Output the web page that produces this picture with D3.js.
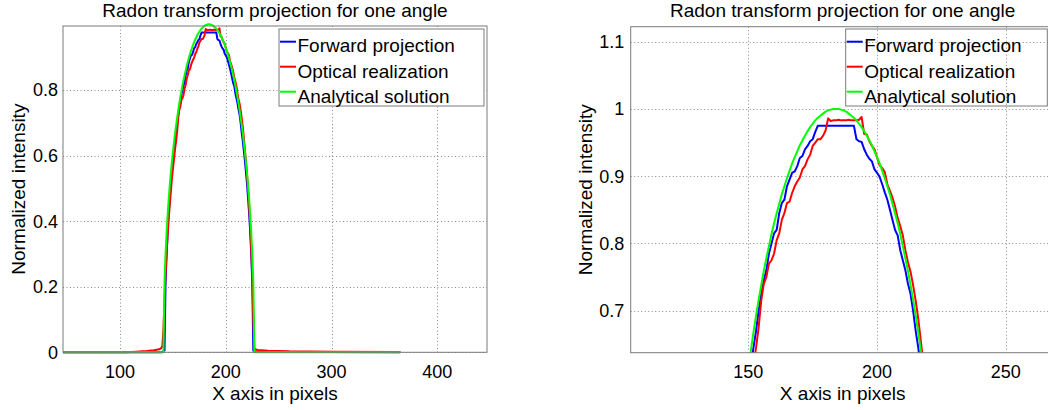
<!DOCTYPE html>
<html><head><meta charset="utf-8">
<style>
body { margin: 0; background: #fff; }
svg text { font-family: "Liberation Sans", Arial, Helvetica, sans-serif; fill: #000; }
.grid line { stroke: #8a8a8a; stroke-width: 1; stroke-dasharray: 1,2.5; }
.box { fill: none; stroke: #7a7a7a; stroke-width: 1; }
.line { fill: none; stroke-width: 2; stroke-linejoin: round; }
</style>
<script src="https://cdn.jsdelivr.net/npm/d3@7"></script>
</head><body>
<div id="chart"></div>
<script>
// series names and colours
var names = ["Forward projection", "Optical realization", "Analytical solution"];
var colors = ["#0000ff", "#ff0000", "#00ff00"];

// analytical solution, one value per pixel from x = 141
var analyticalStart = 141;
var analyticalVals = [0, 0.214, 0.301, 0.367, 0.421, 0.468, 0.510, 0.547, 0.581, 0.612,
  0.641, 0.668, 0.693, 0.716, 0.738, 0.759, 0.778, 0.796, 0.814, 0.830,
  0.845, 0.859, 0.873, 0.885, 0.897, 0.908, 0.919, 0.928, 0.937, 0.946,
  0.953, 0.960, 0.967, 0.973, 0.978, 0.983, 0.987, 0.990, 0.993, 0.996,
  0.998, 0.999, 1.000, 1.000, 1.000, 0.999, 0.998, 0.996, 0.993, 0.990,
  0.987, 0.983, 0.978, 0.973, 0.967, 0.960, 0.953, 0.946, 0.937, 0.928,
  0.919, 0.908, 0.897, 0.885, 0.873, 0.859, 0.845, 0.830, 0.814, 0.796,
  0.778, 0.759, 0.738, 0.716, 0.693, 0.668, 0.641, 0.612, 0.581, 0.547,
  0.510, 0.468, 0.421, 0.367, 0.301, 0.214, 0];
var analyticalHead = [[46, 0]];
var analyticalTail = [[365, 0]];

// forward projection, one value per pixel from x = 142
var forwardStart = 142;
var forwardVals = [0.005, 0.215, 0.30, 0.37, 0.425, 0.47, 0.515, 0.55, 0.585, 0.62,
  0.645, 0.67, 0.70, 0.725, 0.745, 0.76, 0.785, 0.80, 0.815, 0.82,
  0.845, 0.86, 0.865, 0.885, 0.895, 0.905, 0.907, 0.915, 0.927, 0.93,
  0.94, 0.945, 0.952, 0.955, 0.966, 0.975, 0.975, 0.975, 0.975, 0.975,
  0.975, 0.975, 0.975, 0.975, 0.975, 0.975, 0.975, 0.975, 0.975, 0.975,
  0.955, 0.952, 0.951, 0.94, 0.932, 0.926, 0.922, 0.91, 0.905, 0.899,
  0.888, 0.876, 0.865, 0.85, 0.835, 0.82, 0.812, 0.79, 0.775, 0.76,
  0.74, 0.725, 0.70, 0.67, 0.645, 0.615, 0.585, 0.55, 0.515, 0.47,
  0.425, 0.37, 0.30, 0.215, 0.005];
var forwardHead = [[46, 0], [139, 0], [141, 0.004]];
var forwardTail = [[228, 0.002], [365, 0]];

// optical realization, one value per pixel from x = 140
var opticalStart = 140;
var opticalVals = [0.02, 0.07, 0.16, 0.24, 0.30, 0.36, 0.41, 0.45, 0.49, 0.53,
  0.56, 0.59, 0.62, 0.645, 0.675, 0.715, 0.74, 0.75, 0.77, 0.775,
  0.785, 0.805, 0.815, 0.835, 0.845, 0.86, 0.862, 0.875, 0.885, 0.892,
  0.898, 0.91, 0.915, 0.925, 0.932, 0.945, 0.95, 0.955, 0.955, 0.96,
  0.968, 0.986, 0.982, 0.983, 0.983, 0.984, 0.983, 0.983, 0.983, 0.984,
  0.983, 0.983, 0.983, 0.984, 0.988, 0.963, 0.962, 0.952, 0.945, 0.94,
  0.928, 0.916, 0.912, 0.906, 0.888, 0.878, 0.868, 0.855, 0.838, 0.826,
  0.812, 0.79, 0.772, 0.758, 0.738, 0.715, 0.688, 0.655, 0.62, 0.585,
  0.545, 0.50, 0.45, 0.39, 0.32, 0.23, 0.10, 0.01];
var opticalHead = [[46, 0], [106, 0], [115, 0.002], [125, 0.004], [132, 0.006], [137, 0.009], [139, 0.013]];
var opticalTail = [[230, 0.007], [240, 0.005], [260, 0.003], [300, 0.002], [365, 0.001]];

// ticks
var leftXTicks = [100, 200, 300, 400];
var leftYTicks = [0, 0.2, 0.4, 0.6, 0.8];
var rightXTicks = [150, 200, 250];
var rightYTicks = [0.7, 0.8, 0.9, 1, 1.1];

var titleText = "Radon transform projection for one angle";
var xLabelText = "X axis in pixels";
var yLabelText = "Normalized intensity";

function build(head, start, vals, tail) {
  return head.concat(vals.map(function(v, i) { return [start + i, v]; }), tail);
}

var series = [
  build(forwardHead, forwardStart, forwardVals, forwardTail),
  build(opticalHead, opticalStart, opticalVals, opticalTail),
  build(analyticalHead, analyticalStart, analyticalVals, analyticalTail)
];

var svg = d3.select("#chart").append("svg")
    .attr("width", 1048)
    .attr("height", 410);

var panels = [
  {x0: 63, x1: 487, y0: 352.3, y1: 26, xDomain: [46, 447], yDomain: [0, 0.995],
   xTicks: leftXTicks, yTicks: leftYTicks, tickGap: 5, xTickBase: 378,
   yLabelX: 25, legendX: 279, legendW: 205, legendFill: "#fff", clip: false},
  {x0: 630.7, x1: 1054.7, y0: 352.7, y1: 26.7, xDomain: [104.3, 269], yDomain: [0.6375, 1.1223],
   xTicks: rightXTicks, yTicks: rightYTicks, tickGap: 6.5, xTickBase: 377.5,
   yLabelX: 591.5, legendX: 845.7, legendW: 201.6, legendFill: "none", clip: true}
];

panels.forEach(function(p, k) {
  var x = d3.scaleLinear().domain(p.xDomain).range([p.x0, p.x1]);
  var y = d3.scaleLinear().domain(p.yDomain).range([p.y0, p.y1]);
  var g = svg.append("g");

  // grid
  var grid = g.append("g").attr("class", "grid");
  grid.selectAll(".vx").data(p.xTicks).enter().append("line")
      .attr("x1", function(d) { return Math.round(x(d)) + 0.5; })
      .attr("x2", function(d) { return Math.round(x(d)) + 0.5; })
      .attr("y1", p.y1).attr("y2", p.y0);
  grid.selectAll(".hy").data(p.yTicks).enter().append("line")
      .attr("y1", function(d) { return Math.round(y(d)) + 0.5; })
      .attr("y2", function(d) { return Math.round(y(d)) + 0.5; })
      .attr("x1", p.x0).attr("x2", p.x1);

  // tick labels
  g.selectAll(".xt").data(p.xTicks).enter().append("text")
      .attr("x", function(d) { return x(d); })
      .attr("y", p.xTickBase)
      .attr("text-anchor", "middle")
      .style("font-size", "18px")
      .text(function(d) { return d; });
  g.selectAll(".yt").data(p.yTicks).enter().append("text")
      .attr("x", p.x0 - p.tickGap)
      .attr("y", function(d) { return y(d) + 6.4; })
      .attr("text-anchor", "end")
      .style("font-size", "18px")
      .text(function(d) { return d; });

  // lines
  var lineLayer = g.append("g");
  if (p.clip) {
    svg.append("clipPath").attr("id", "clip" + k).append("rect")
        .attr("x", p.x0).attr("y", p.y1)
        .attr("width", p.x1 - p.x0).attr("height", p.y0 - p.y1);
    lineLayer.attr("clip-path", "url(#clip" + k + ")");
  }
  var line = d3.line()
      .x(function(d) { return x(d[0]); })
      .y(function(d) { return y(d[1]); });
  lineLayer.selectAll("path").data(series).enter().append("path")
      .attr("class", "line")
      .attr("stroke", function(d, i) { return colors[i]; })
      .attr("d", line);

  // axes box
  g.append("rect").attr("class", "box")
      .attr("x", p.x0).attr("y", p.y1)
      .attr("width", p.x1 - p.x0).attr("height", p.y0 - p.y1);

  // title and axis labels
  var cx = (p.x0 + p.x1) / 2;
  g.append("text").attr("x", cx).attr("y", 17)
      .attr("text-anchor", "middle").style("font-size", "19px").text(titleText);
  g.append("text").attr("x", cx).attr("y", 400)
      .attr("text-anchor", "middle").style("font-size", "19px").text(xLabelText);
  g.append("text")
      .attr("transform", "translate(" + p.yLabelX + "," + ((p.y0 + p.y1) / 2) + ") rotate(-90)")
      .attr("text-anchor", "middle").style("font-size", "19px").text(yLabelText);

  // legend
  var lg = g.append("g");
  lg.append("rect")
      .attr("x", p.legendX).attr("y", 29)
      .attr("width", p.legendW).attr("height", 77)
      .attr("fill", p.legendFill)
      .attr("stroke", "#7a7a7a");
  names.forEach(function(n, i) {
    lg.append("line")
        .attr("x1", p.legendX + 1).attr("x2", p.legendX + 17)
        .attr("y1", 41.7 + i * 25).attr("y2", 41.7 + i * 25)
        .attr("stroke", colors[i]).attr("stroke-width", 2);
    lg.append("text")
        .attr("x", p.legendX + 18.5).attr("y", 52 + i * 25.5)
        .style("font-size", "19px").text(n);
  });
});
</script>
</body></html>
